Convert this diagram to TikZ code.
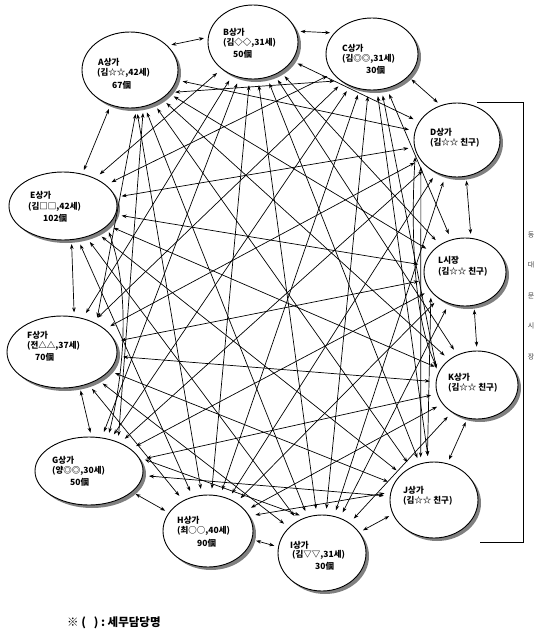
\documentclass[tikz,border=0pt]{standalone}
\usepackage{fontspec}
\setmainfont{Noto Sans CJK KR}
\usetikzlibrary{shapes.geometric,arrows.meta,shadows}
\begin{document}
\begin{tikzpicture}[x=1pt,y=-1pt,
  shop/.style={ellipse,draw,line width=0.9pt,fill=white,inner sep=0pt,
    drop shadow={shadow xshift=3pt,shadow yshift=-3pt,fill=black!50,opacity=1}},
  lbl/.style={anchor=west,inner sep=0pt,font=\fontsize{8.5}{10}\selectfont\bfseries},
  link/.style={line width=0.7pt,{Stealth[length=5pt,width=3.6pt]}-{Stealth[length=5pt,width=3.6pt]},shorten >=6pt,shorten <=6pt},
  ring/.style={link,shorten >=4pt,shorten <=4pt}]
\useasboundingbox (0,0) rectangle (540,635);

% shops
\node[shop,minimum width=96pt,minimum height=76pt] (A) at (130,70) {};
\node[shop,minimum width=90pt,minimum height=74pt] (B) at (253,42) {};
\node[shop,minimum width=92pt,minimum height=72pt] (C) at (372,54) {};
\node[shop,minimum width=86pt,minimum height=74pt] (D) at (457,140) {};
\node[shop,minimum width=82pt,minimum height=68pt] (L) at (465,272) {};
\node[shop,minimum width=82pt,minimum height=68pt] (K) at (477,385) {};
\node[shop,minimum width=88pt,minimum height=76pt] (J) at (434,500) {};
\node[shop,minimum width=88pt,minimum height=76pt] (I) at (322,553) {};
\node[shop,minimum width=90pt,minimum height=72pt] (H) at (208,531) {};
\node[shop,minimum width=108pt,minimum height=68pt] (G) at (89,471) {};
\node[shop,minimum width=110pt,minimum height=72pt] (F) at (62,352) {};
\node[shop,minimum width=108pt,minimum height=68pt] (E) at (63,206) {};

% labels
\node[lbl] (a1) at (98,62) {A상가};
\node[lbl] (a2) at (97,73) {(김☆☆,42세)};
\node[lbl] (a3) at (112,85) {67個};
\node[lbl] (b1) at (223,32) {B상가};
\node[lbl] (b2) at (223,43) {(김◇◇,31세)};
\node[lbl] (b3) at (233,54) {50個};
\node[lbl] (c1) at (342,48) {C상가};
\node[lbl] (c2) at (342,59) {(김◎◎,31세)};
\node[lbl] (c3) at (366,70) {30個};
\node[lbl] (d1) at (430,132) {D상가};
\node[lbl] (d2) at (430,143) {(김☆☆ 친구)};
\node[lbl] (l1) at (438,260) {L시장};
\node[lbl] (l2) at (438,272) {(김☆☆ 친구)};
\node[lbl] (k1) at (448,377) {K상가};
\node[lbl] (k2) at (448,388) {(김☆☆ 친구)};
\node[lbl] (j1) at (403,490) {J상가};
\node[lbl] (j2) at (403,501) {(김☆☆ 친구)};
\node[lbl] (i1) at (290,545) {I상가};
\node[lbl] (i2) at (292,555) {(김▽▽,31세)};
\node[lbl] (i3) at (315,566) {30個};
\node[lbl] (h1) at (177,520) {H상가};
\node[lbl] (h2) at (177,531) {(최○○,40세)};
\node[lbl] (h3) at (197,543) {90個};
\node[lbl] (g1) at (52,460) {G상가};
\node[lbl] (g2) at (52,471) {(양◎◎,30세)};
\node[lbl] (g3) at (70,482) {50個};
\node[lbl] (f1) at (27,335) {F상가};
\node[lbl] (f2) at (27,346) {(전△△,37세)};
\node[lbl] (f3) at (35,357) {70個};
\node[lbl] (e1) at (30,195) {E상가};
\node[lbl] (e2) at (28,207) {(김□□,42세)};
\node[lbl] (e3) at (43,218) {102個};

% ring connectors
\draw[ring] (A.33) -- (B.174);
\draw[ring] (B.14) -- (C.151);
\draw[ring] (C.-32) -- (D.115);
\draw[ring] (D.-76) -- (L.80);
\draw[ring] (L.-75) -- (K.90);
\draw[ring] (K.-106) -- (J.70);
\draw[ring] (J.199) -- (I.29);
\draw[ring] (I.172) -- (H.-11);
\draw[ring] (H.155) -- (G.-26);
\draw[ring] (G.86) -- (F.-63);
\draw[ring] (F.71) -- (E.-76);
\draw[ring] (E.59) -- (A.-119);

% crossing connectors
\foreach \s/\t in {A/D,A/L,A/K,A/J,A/I,A/H,
  B/D,B/L,B/K,B/J,B/I,B/H,B/G,B/F,B/E,
  C/L,C/J,C/I,C/H,C/G,C/F,C/E,
  D/I,D/H,D/G,D/F,D/E,
  L/I,L/H,L/G,L/F,L/E,
  K/I,K/H,K/G,K/F,K/E,
  J/G,J/F,J/E,
  I/F,I/E,
  H/F,H/E}
  \draw[link] (\s) -- (\t);
\draw[link] (A.-30) -- (C.-140);
\draw[link] (A.-80) -- (F.40);
\draw[link] (A.-70) -- (G.45);
\draw[link] (C.-75) -- (K.165);
\draw[link] (D.-165) .. controls +(-5,80) and +(-25,-50) .. (K.160);
\draw[link] (D.-150) -- (J.110);
\draw[link] (L.-150) -- (J.100);
\draw[link] (E.-25) .. controls +(25,70) and +(15,-60) .. (G.60);
\draw[link] (G.15) -- (I.115);
\draw[link] (H.20) -- (J.170);

% bracket
\coordinate (br1) at (477,102);
\coordinate (br2) at (523,102);
\coordinate (br3) at (523,542);
\coordinate (br4) at (480,542);
\draw[line width=0.8pt] (br1) -- (br2) -- (br3) -- (br4);
\node[font=\fontsize{7}{30.5}\selectfont,align=center,text=black!75,inner sep=0pt] (vlab) at (531,296) {동\\대\\문\\시\\장};

% note
\node[anchor=west,inner sep=0pt,font=\fontsize{11.5}{13}\selectfont\bfseries] (note) at (67,623) {※\ (\ \ \ )\ :\ 세무담당명};
\end{tikzpicture}
\end{document}
